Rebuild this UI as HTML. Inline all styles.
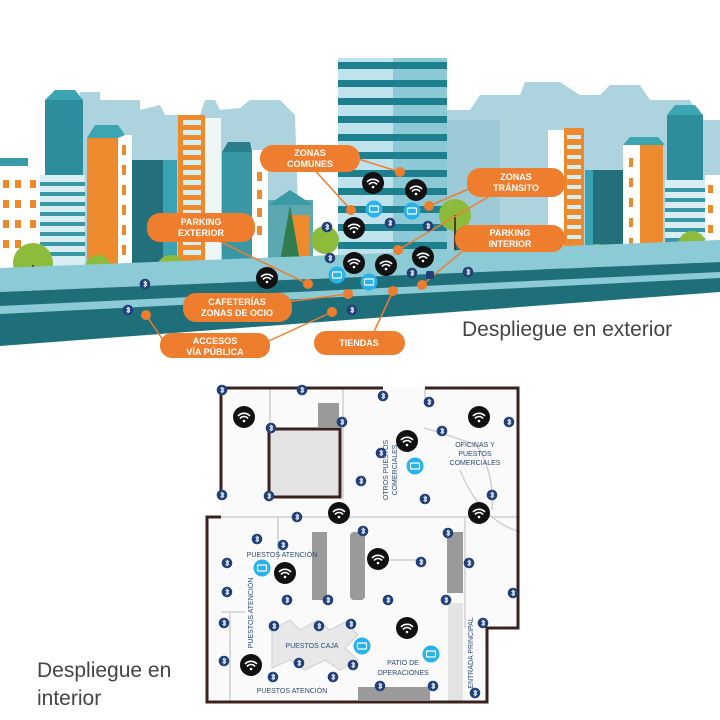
<!DOCTYPE html>
<html><head><meta charset="utf-8"><style>
html,body{margin:0;padding:0;background:#fff;width:720px;height:720px;overflow:hidden}
svg text{font-family:"Liberation Sans",sans-serif}
</style></head><body>
<svg width="720" height="720" viewBox="0 0 720 720" xmlns="http://www.w3.org/2000/svg">
<defs>
<g id="wf"><circle r="11" fill="#111"/><path d="M-6,-1 A8,8 0 0 1 6,-1 M-4,1.5 A5,5 0 0 1 4,1.5" stroke="#fff" stroke-width="1.6" fill="none"/><circle cx="0" cy="4" r="1.3" fill="#fff"/></g>
<g id="bt"><circle r="5.3" fill="#1f3f7a"/><path d="M-1.5,-2 L1.8,1.2 L0,2.8 V-2.8 L1.8,-1.2 L-1.5,2" stroke="#fff" stroke-width="0.8" fill="none"/></g>
<g id="sc"><circle r="8.5" fill="#29b1ea"/><rect x="-4.5" y="-3" width="9" height="6" rx="1" fill="none" stroke="#fff" stroke-width="1.2"/></g>
<g id="od"><circle r="5" fill="#ee7d2e"/></g>
</defs>

<!-- background silhouettes -->
<path d="M80,92 L100,92 L100,100 L140,100 L140,110 L160,105 L165,115 L200,115 L205,100 L215,100 L220,110 L240,108 L250,100 L280,100 L295,115 L300,270 L80,270Z" fill="#acd3de"/>
<path d="M440,110 L470,110 L480,95 L520,95 L525,82 L560,82 L580,95 L600,95 L610,85 L640,85 L650,100 L690,100 L700,120 L720,120 L720,262 L440,262Z" fill="#acd3de"/>
<rect x="440" y="120" width="60" height="140" fill="#9ccad6"/>

<!-- left buildings -->
<rect x="0" y="163" width="40" height="110" fill="#fff"/>
<rect x="0" y="158" width="28" height="8" fill="#3a9aa8"/>
<g fill="#ee8a2e"><rect x="3" y="180" width="6" height="8"/><rect x="15" y="180" width="6" height="8"/><rect x="30" y="180" width="6" height="8"/><rect x="3" y="200" width="6" height="8"/><rect x="15" y="200" width="6" height="8"/><rect x="30" y="200" width="6" height="8"/><rect x="3" y="220" width="6" height="8"/><rect x="15" y="220" width="6" height="8"/><rect x="30" y="220" width="6" height="8"/><rect x="3" y="240" width="6" height="8"/><rect x="15" y="240" width="6" height="8"/></g>
<rect x="45" y="100" width="38" height="175" fill="#2d8d9c"/>
<polygon points="45,100 55,90 75,90 83,100" fill="#3da5b2"/>
<rect x="40" y="175" width="45" height="100" fill="#d9eef3"/>
<g fill="#3a98a6"><rect x="40" y="182" width="45" height="4"/><rect x="40" y="192" width="45" height="4"/><rect x="40" y="202" width="45" height="4"/><rect x="40" y="212" width="45" height="4"/><rect x="40" y="222" width="45" height="4"/><rect x="40" y="232" width="45" height="4"/><rect x="40" y="242" width="45" height="4"/><rect x="40" y="252" width="45" height="4"/></g>
<rect x="87" y="138" width="31" height="137" fill="#ee8a2e"/>
<rect x="118" y="135" width="14" height="140" fill="#fff"/>
<polygon points="87,138 95,125 118,125 125,135 118,138" fill="#3da5b2"/>
<g fill="#ee8a2e"><rect x="122" y="145" width="4" height="10"/><rect x="122" y="165" width="4" height="10"/><rect x="122" y="185" width="4" height="10"/><rect x="122" y="205" width="4" height="10"/><rect x="122" y="225" width="4" height="10"/><rect x="122" y="245" width="4" height="10"/></g>
<rect x="132" y="160" width="45" height="115" fill="#236f7c"/>
<rect x="163" y="160" width="14" height="115" fill="#3aa3b2"/>
<rect x="178" y="115" width="27" height="160" fill="#ee8a2e"/>
<g fill="#d5eef2"><rect x="183" y="120" width="18" height="5"/><rect x="183" y="130" width="18" height="5"/><rect x="183" y="140" width="18" height="5"/><rect x="183" y="150" width="18" height="5"/><rect x="183" y="160" width="18" height="5"/><rect x="183" y="170" width="18" height="5"/><rect x="183" y="180" width="18" height="5"/><rect x="183" y="190" width="18" height="5"/><rect x="183" y="200" width="18" height="5"/><rect x="183" y="210" width="18" height="5"/><rect x="183" y="220" width="18" height="5"/><rect x="183" y="230" width="18" height="5"/><rect x="183" y="240" width="18" height="5"/><rect x="183" y="250" width="18" height="5"/></g>
<rect x="205" y="118" width="16" height="157" fill="#eef7f5"/>
<rect x="222" y="152" width="30" height="123" fill="#3a98a6"/>
<polygon points="222,152 228,142 250,142 252,152" fill="#2a7e8c"/>
<rect x="252" y="150" width="16" height="125" fill="#fff"/>
<g fill="#ee8a2e"><rect x="257" y="172" width="5" height="9"/><rect x="257" y="190" width="5" height="9"/><rect x="257" y="208" width="5" height="9"/><rect x="257" y="226" width="5" height="9"/></g>
<rect x="268" y="200" width="45" height="75" fill="#5ba8b0"/>
<polygon points="268,205 290,190 313,205" fill="#3c9aa7"/>
<rect x="290" y="215" width="20" height="60" fill="#ee8a2e"/>

<!-- central tower -->
<rect x="338" y="58" width="109" height="232" fill="#bfe3ec"/>
<rect x="393" y="58" width="54" height="232" fill="#8cc9d6"/>
<g fill="#1e7f8f">
<rect x="338" y="62" width="109" height="7"/><rect x="338" y="80" width="109" height="7"/><rect x="338" y="98" width="109" height="7"/><rect x="338" y="116" width="109" height="7"/><rect x="338" y="134" width="109" height="7"/><rect x="338" y="152" width="109" height="7"/><rect x="338" y="170" width="109" height="7"/><rect x="338" y="188" width="109" height="7"/><rect x="338" y="206" width="109" height="7"/><rect x="338" y="224" width="109" height="7"/><rect x="338" y="242" width="109" height="7"/><rect x="338" y="260" width="109" height="7"/></g>

<!-- right buildings -->
<rect x="548" y="130" width="16" height="135" fill="#fff"/>
<rect x="564" y="128" width="20" height="137" fill="#ee8a2e"/>
<g fill="#d5eef2"><rect x="567" y="135" width="14" height="4"/><rect x="567" y="145" width="14" height="4"/><rect x="567" y="155" width="14" height="4"/><rect x="567" y="165" width="14" height="4"/><rect x="567" y="175" width="14" height="4"/><rect x="567" y="185" width="14" height="4"/><rect x="567" y="195" width="14" height="4"/><rect x="567" y="205" width="14" height="4"/><rect x="567" y="215" width="14" height="4"/><rect x="567" y="225" width="14" height="4"/><rect x="567" y="235" width="14" height="4"/></g>
<rect x="585" y="170" width="38" height="95" fill="#236f7c"/>
<rect x="585" y="170" width="8" height="95" fill="#3aa3b2"/>
<rect x="623" y="145" width="17" height="120" fill="#fff"/>
<rect x="640" y="145" width="23" height="120" fill="#ee8a2e"/>
<polygon points="623,145 630,137 658,137 665,145" fill="#3da5b2"/>
<g fill="#ee8a2e"><rect x="629" y="158" width="4" height="9"/><rect x="629" y="178" width="4" height="9"/><rect x="629" y="198" width="4" height="9"/><rect x="629" y="218" width="4" height="9"/><rect x="629" y="238" width="4" height="9"/></g>
<rect x="667" y="115" width="36" height="150" fill="#2d8d9c"/>
<polygon points="667,115 675,105 695,105 703,115" fill="#3da5b2"/>
<rect x="665" y="180" width="40" height="85" fill="#d9eef3"/>
<g fill="#3a98a6"><rect x="665" y="188" width="40" height="4"/><rect x="665" y="198" width="40" height="4"/><rect x="665" y="208" width="40" height="4"/><rect x="665" y="218" width="40" height="4"/><rect x="665" y="228" width="40" height="4"/><rect x="665" y="238" width="40" height="4"/></g>
<rect x="705" y="175" width="15" height="90" fill="#fff"/>
<g fill="#ee8a2e"><rect x="708" y="185" width="5" height="8"/><rect x="708" y="205" width="5" height="8"/><rect x="708" y="225" width="5" height="8"/></g>
<rect x="455" y="230" width="95" height="35" fill="#236f7c"/>

<!-- trees -->
<g fill="#8dbb3c"><circle cx="33" cy="263" r="20"/><circle cx="98" cy="268" r="13"/><circle cx="171" cy="270" r="15"/><circle cx="325" cy="240" r="14"/><circle cx="455" cy="215" r="16"/><circle cx="535" cy="258" r="12"/><circle cx="597" cy="258" r="14"/><circle cx="692" cy="245" r="14"/><circle cx="500" cy="250" r="12"/></g>
<g stroke="#5a3b22" stroke-width="2"><line x1="33" y1="265" x2="33" y2="300"/><line x1="98" y1="265" x2="98" y2="305"/><line x1="171" y1="270" x2="171" y2="300"/><line x1="455" y1="215" x2="455" y2="265"/><line x1="597" y1="258" x2="597" y2="290"/><line x1="692" y1="245" x2="692" y2="280"/></g>
<polygon points="290,205 275,290 305,290" fill="#2f7d4d"/>
<polygon points="552,230 535,300 570,300" fill="#2f7d4d"/>

<!-- road -->
<polygon points="0,268 720,240 720,262 0,292" fill="#8ccbd6"/>
<polygon points="0,292 720,262 720,292 0,346" fill="#1f6f7b"/>
<polygon points="0,306 720,272 720,278 0,314" fill="#8ccbd6"/>

<!-- connectors -->
<g stroke="#ee7d2e" stroke-width="1.5" fill="none">
<line x1="355" y1="158" x2="400" y2="172"/><line x1="310" y1="165" x2="351" y2="210"/>
<line x1="490" y1="180" x2="429" y2="206"/><line x1="500" y1="190" x2="398" y2="250"/>
<line x1="200" y1="232" x2="308" y2="284"/><line x1="470" y1="245" x2="422" y2="285"/>
<line x1="285" y1="302" x2="348" y2="294"/><line x1="165" y1="343" x2="146" y2="315"/>
<line x1="260" y1="345" x2="332" y2="312"/><line x1="372" y1="336" x2="393" y2="291"/>
</g>
<g>
<use href="#od" x="400" y="172"/><use href="#od" x="351" y="210"/><use href="#od" x="429" y="206"/><use href="#od" x="398" y="250"/><use href="#od" x="308" y="284"/><use href="#od" x="348" y="294"/><use href="#od" x="393" y="291"/><use href="#od" x="422" y="285"/><use href="#od" x="332" y="312"/><use href="#od" x="146" y="315"/>
</g>
<!-- icons top -->
<use href="#wf" x="373" y="183"/><use href="#wf" x="416" y="190"/><use href="#wf" x="354" y="228"/><use href="#wf" x="354" y="263"/><use href="#wf" x="386" y="265"/><use href="#wf" x="423" y="257"/><use href="#wf" x="267" y="278"/>
<use href="#sc" x="374" y="209"/><use href="#sc" x="412" y="211"/><use href="#sc" x="337" y="275"/><use href="#sc" x="369" y="282"/>
<use href="#bt" x="327" y="227"/><use href="#bt" x="390" y="223"/><use href="#bt" x="428" y="226"/><use href="#bt" x="330" y="258"/><use href="#bt" x="412" y="273"/><use href="#bt" x="468" y="272"/><use href="#bt" x="145" y="284"/><use href="#bt" x="128" y="310"/><use href="#bt" x="352" y="310"/>
<rect x="426" y="271" width="8" height="8" rx="2" fill="#1f3f7a"/>

<!-- labels -->
<g fill="#ee7d2e">
<rect x="260" y="145" width="100" height="27" rx="13"/><rect x="467" y="168" width="98" height="29" rx="13"/>
<rect x="147" y="213" width="108" height="29" rx="13"/><rect x="455" y="225" width="110" height="27" rx="13"/>
<rect x="183" y="293" width="109" height="29" rx="13"/><rect x="160" y="333" width="110" height="25" rx="12"/>
<rect x="314" y="331" width="91" height="24" rx="12"/>
</g>
<g fill="#fff" font-size="9" font-weight="bold" text-anchor="middle">
<text x="310" y="156">ZONAS</text><text x="310" y="167">COMUNES</text>
<text x="516" y="180">ZONAS</text><text x="516" y="191">TRÁNSITO</text>
<text x="201" y="225">PARKING</text><text x="201" y="236">EXTERIOR</text>
<text x="510" y="236">PARKING</text><text x="510" y="247">INTERIOR</text>
<text x="237" y="305">CAFETERÍAS</text><text x="237" y="316">ZONAS DE OCIO</text>
<text x="215" y="344">ACCESOS</text><text x="215" y="355">VÍA PÚBLICA</text>
<text x="359" y="346">TIENDAS</text>
</g>
<text x="462" y="336" font-size="21" fill="#444">Despliegue en exterior</text>

<!-- floor plan -->
<rect x="208" y="388" width="310" height="314" fill="#fafafa"/>
<rect x="488" y="628" width="35" height="80" fill="#fff"/>
<rect x="208" y="388" width="13" height="129" fill="#fff"/>
<g stroke="#d0d0d0" stroke-width="1.5" fill="none">
<line x1="270" y1="388" x2="270" y2="430"/><line x1="343" y1="388" x2="343" y2="500"/><line x1="425" y1="388" x2="425" y2="402"/>
<line x1="221" y1="517" x2="520" y2="517"/><line x1="278" y1="517" x2="278" y2="560"/><line x1="221" y1="612" x2="245" y2="612"/>
<line x1="230" y1="612" x2="230" y2="702"/><line x1="465" y1="517" x2="465" y2="628"/><line x1="378" y1="560" x2="420" y2="560"/>
<path d="M424,428 Q450,435 475,445 L480,450 Q495,480 492,510"/>
<path d="M460,470 Q480,520 520,532"/>
</g>
<rect x="448" y="603" width="15" height="99" fill="#e3e3e3"/>
<rect x="269" y="429" width="71" height="68" fill="#e3e3e3" stroke="#3a2220" stroke-width="3"/>
<g fill="#9a9a9a">
<rect x="318" y="403" width="21" height="24"/><rect x="312" y="532" width="15" height="68"/><rect x="350" y="532" width="15" height="68" rx="4"/><rect x="447" y="532" width="16" height="61"/><rect x="358" y="687" width="72" height="13"/>
</g>
<polygon points="272,630 290,620 300,630 318,620 330,630 345,622 358,635 345,648 358,660 340,670 325,660 305,670 290,660 272,668" fill="#e8e8e8" stroke="#cfcfcf"/>
<g stroke="#3a2220" stroke-width="3" fill="none">
<polyline points="221,500 221,388 383,388"/>
<polyline points="425,388 518,388 518,628 487,628 487,702 207,702 207,517 221,517"/>
</g>
<!-- floor labels -->
<g fill="#2b4a7a" font-size="7" text-anchor="middle">
<text x="475" y="447">OFICINAS Y</text><text x="475" y="456">PUESTOS</text><text x="475" y="465">COMERCIALES</text>
<text x="282" y="557">PUESTOS ATENCIÓN</text>
<text x="312" y="648">PUESTOS CAJA</text>
<text x="403" y="665">PATIO DE</text><text x="403" y="675">OPERACIONES</text>
<text x="292" y="693">PUESTOS ATENCIÓN</text>
<text transform="translate(388,470) rotate(-90)">OTROS PUESTOS</text>
<text transform="translate(397,470) rotate(-90)">COMERCIALES</text>
<text transform="translate(253,613) rotate(-90)">PUESTOS ATENCIÓN</text>
<text transform="translate(473,653) rotate(-90)">ENTRADA PRINCIPAL</text>
</g>
<!-- floor icons -->
<use href="#wf" x="244" y="417"/><use href="#wf" x="407" y="441"/><use href="#wf" x="479" y="417"/><use href="#wf" x="479" y="513"/><use href="#wf" x="339" y="513"/><use href="#wf" x="378" y="559"/><use href="#wf" x="285" y="573"/><use href="#wf" x="407" y="628"/><use href="#wf" x="251" y="665"/>
<use href="#sc" x="415" y="466"/><use href="#sc" x="262" y="568"/><use href="#sc" x="362" y="646"/><use href="#sc" x="431" y="654"/>
<g>
<use href="#bt" x="222" y="390"/><use href="#bt" x="302" y="390"/><use href="#bt" x="383" y="396"/><use href="#bt" x="429" y="402"/><use href="#bt" x="342" y="422"/><use href="#bt" x="442" y="431"/><use href="#bt" x="509" y="422"/><use href="#bt" x="271" y="428"/><use href="#bt" x="381" y="453"/><use href="#bt" x="361" y="481"/><use href="#bt" x="222" y="495"/><use href="#bt" x="269" y="496"/><use href="#bt" x="425" y="499"/><use href="#bt" x="492" y="495"/><use href="#bt" x="297" y="517"/><use href="#bt" x="363" y="531"/><use href="#bt" x="448" y="533"/><use href="#bt" x="257" y="539"/><use href="#bt" x="283" y="545"/><use href="#bt" x="227" y="563"/><use href="#bt" x="421" y="562"/><use href="#bt" x="469" y="563"/><use href="#bt" x="227" y="592"/><use href="#bt" x="287" y="600"/><use href="#bt" x="328" y="600"/><use href="#bt" x="388" y="600"/><use href="#bt" x="446" y="600"/><use href="#bt" x="513" y="593"/><use href="#bt" x="224" y="623"/><use href="#bt" x="274" y="626"/><use href="#bt" x="319" y="626"/><use href="#bt" x="351" y="624"/><use href="#bt" x="483" y="623"/><use href="#bt" x="224" y="661"/><use href="#bt" x="299" y="663"/><use href="#bt" x="353" y="665"/><use href="#bt" x="273" y="677"/><use href="#bt" x="333" y="677"/><use href="#bt" x="380" y="686"/><use href="#bt" x="433" y="686"/><use href="#bt" x="475" y="693"/>
</g>
<text x="37" y="677" font-size="21" fill="#444">Despliegue en</text>
<text x="37" y="705" font-size="21" fill="#444">interior</text>
</svg>
</body></html>
